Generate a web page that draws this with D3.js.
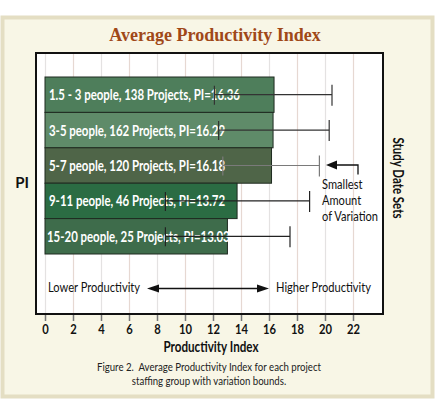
<!DOCTYPE html>
<html>
<head>
<meta charset="utf-8">
<script src="https://cdn.jsdelivr.net/npm/d3@7"></script>
<style>
  body { margin: 0; background: #fff; }
  svg { display: block; }
  .cond { font-family: "Lato", "Liberation Sans", sans-serif; }
</style>
</head>
<body>
<svg></svg>
<script>
var screen = {width: 435, height: 401}

// chart data
var groups = ["1.5 - 3 people", "3-5 people", "5-7 people", "9-11 people", "15-20 people"]
var projects = [138, 162, 120, 46, 25]
var piValues = [16.36, 16.29, 16.18, 13.72, 13.03]
var lowBounds = [12.1, 12.4, 12.7, 8.6, 8.6]
var highBounds = [20.5, 20.3, 19.6, 18.9, 17.5]
var xTicks = [0, 2, 4, 6, 8, 10, 12, 14, 16, 18, 20, 22]

var barColors = ["#4e7e5b", "#5f8b69", "#4f6548", "#2b6c43", "#3e6c4b"]
var whiskerColors = ["#333", "#333", "#7a7a7a", "#222", "#222"]

// squeeze text horizontally (the original uses a condensed face)
var squeeze = function(sel, factor)
{
    sel.each(function(){
        var w = this.getComputedTextLength()
        d3.select(this)
            .attr("textLength", w * factor)
            .attr("lengthAdjust", "spacingAndGlyphs")
    })
}
var fitTo = function(sel, width)
{
    sel.attr("textLength", width).attr("lengthAdjust", "spacingAndGlyphs")
}

var svg = d3.select("svg")
    .attr("width", screen.width)
    .attr("height", screen.height)

// beige frame
svg.append("rect")
    .attr("x", 2.5).attr("y", 17.5)
    .attr("width", 430).attr("height", 379)
    .attr("fill", "#f8f6e6")
    .attr("stroke", "#e4dec3")
    .attr("stroke-width", 4)

var box = {left: 36, right: 383, top: 53, bottom: 314}

var xScale = d3.scaleLinear()
    .domain([0, 22])
    .range([45, 353])

var yScale = d3.scaleBand()
    .domain(groups)
    .range([77, 254])
    .padding(0)

// plot area
svg.append("rect")
    .attr("x", box.left).attr("y", box.top)
    .attr("width", box.right - box.left)
    .attr("height", box.bottom - box.top)
    .attr("fill", "#fff")

// grid lines
svg.append("g")
    .selectAll("line")
    .data(xTicks)
    .enter()
    .append("line")
    .attr("x1", function(d){return xScale(d) + 0.5})
    .attr("x2", function(d){return xScale(d) + 0.5})
    .attr("y1", box.top)
    .attr("y2", box.bottom)
    .attr("stroke", function(d, i){return i % 2 ? "#e6d8d2" : "#e4e2e2"})
    .attr("stroke-width", 1.2)

// bars
var rows = svg.append("g")
    .selectAll("g")
    .data(groups)
    .enter()
    .append("g")

rows.append("rect")
    .attr("x", xScale(0))
    .attr("y", function(d){return yScale(d)})
    .attr("width", function(d, i){return xScale(piValues[i]) - xScale(0)})
    .attr("height", yScale.bandwidth())
    .attr("fill", function(d, i){return barColors[i]})
    .attr("stroke", "#1e2a20")
    .attr("stroke-width", 1)

var labels = rows.append("text")
    .attr("class", "cond")
    .attr("x", function(d, i){return i == 4 ? 47 : 49})
    .attr("y", function(d){return yScale(d) + yScale.bandwidth() / 2 + 5.5})
    .attr("fill", "#fff")
    .attr("font-size", 15.5)
    .attr("font-weight", "bold")
    .text(function(d, i){return d + ", " + projects[i] + " Projects, PI=" + piValues[i].toFixed(2)})
var firstW = labels.node().getComputedTextLength()
squeeze(labels, 191 / firstW)

// variation bounds
var midY = function(d){return yScale(d) + yScale.bandwidth() / 2}
rows.append("line")
    .attr("x1", function(d, i){return xScale(lowBounds[i])})
    .attr("x2", function(d, i){return xScale(highBounds[i])})
    .attr("y1", midY).attr("y2", midY)
    .attr("stroke", function(d, i){return whiskerColors[i]})
    .attr("stroke-width", 1.2)
rows.append("line")
    .attr("x1", function(d, i){return xScale(lowBounds[i])})
    .attr("x2", function(d, i){return xScale(lowBounds[i])})
    .attr("y1", function(d){return midY(d) - 9})
    .attr("y2", function(d){return midY(d) + 10})
    .attr("stroke", function(d, i){return whiskerColors[i]})
    .attr("stroke-width", 1.2)
rows.append("line")
    .attr("x1", function(d, i){return xScale(highBounds[i])})
    .attr("x2", function(d, i){return xScale(highBounds[i])})
    .attr("y1", function(d){return midY(d) - 10})
    .attr("y2", function(d){return midY(d) + 11})
    .attr("stroke", function(d, i){return whiskerColors[i]})
    .attr("stroke-width", 1.2)

// box border
svg.append("rect")
    .attr("x", box.left).attr("y", box.top)
    .attr("width", box.right - box.left)
    .attr("height", box.bottom - box.top)
    .attr("fill", "none")
    .attr("stroke", "#111")
    .attr("stroke-width", 2)

// x axis
var xAxis = d3.axisBottom(xScale)
    .tickValues(xTicks)
    .tickSize(6)
    .tickPadding(3)
var axisG = svg.append("g")
    .attr("transform", "translate(0," + (box.bottom + 1) + ")")
    .call(xAxis)
axisG.select(".domain").remove()
axisG.selectAll(".tick line").attr("stroke", "#777").attr("stroke-width", 1.5)
var tickText = axisG.selectAll(".tick text")
    .attr("class", "cond")
    .attr("font-size", 14)
    .attr("font-weight", "bold")
    .attr("fill", "#111")
squeeze(tickText, 0.8)

var xTitle = svg.append("text")
    .attr("class", "cond")
    .attr("x", 211).attr("y", 352)
    .attr("text-anchor", "middle")
    .attr("font-size", 16)
    .attr("font-weight", "bold")
    .attr("fill", "#111")
    .text("Productivity Index")
fitTo(xTitle, 95)

// title
svg.append("text")
    .attr("x", 215).attr("y", 41)
    .attr("text-anchor", "middle")
    .attr("font-family", "Liberation Serif, serif")
    .attr("font-size", 18)
    .attr("font-weight", "bold")
    .attr("fill", "#a04818")
    .text("Average Productivity Index")

// side labels
svg.append("text")
    .attr("class", "cond")
    .attr("x", 22).attr("y", 188)
    .attr("text-anchor", "middle")
    .attr("font-size", 15)
    .attr("font-weight", "bold")
    .attr("fill", "#111")
    .text("PI")

var sideTitle = svg.append("text")
    .attr("class", "cond")
    .attr("transform", "translate(393,178) rotate(90)")
    .attr("text-anchor", "middle")
    .attr("font-size", 15)
    .attr("font-weight", "bold")
    .attr("fill", "#111")
    .text("Study Date Sets")
fitTo(sideTitle, 81)

// annotation
svg.append("path")
    .attr("d", "M358,174.5 V165 H334")
    .attr("fill", "none")
    .attr("stroke", "#111")
    .attr("stroke-width", 1.3)
svg.append("path")
    .attr("d", "M326,165 L337,160.5 L337,169.5 Z")
    .attr("fill", "#111")
var noteLines = ["Smallest", "Amount", "of Variation"]
var notes = svg.append("g")
    .selectAll("text")
    .data(noteLines)
    .enter()
    .append("text")
    .attr("class", "cond")
    .attr("x", 322)
    .attr("y", function(d, i){return 189 + i * 16})
    .attr("font-size", 13.5)
    .attr("fill", "#111")
    .text(function(d){return d})
squeeze(notes, 56 / notes.filter(function(d, i){return i == 2}).node().getComputedTextLength())

// productivity direction
var lower = svg.append("text")
    .attr("class", "cond")
    .attr("x", 48).attr("y", 292)
    .attr("font-size", 14)
    .attr("fill", "#111")
    .text("Lower Productivity")
fitTo(lower, 92)
var higher = svg.append("text")
    .attr("class", "cond")
    .attr("x", 276).attr("y", 292)
    .attr("font-size", 14)
    .attr("fill", "#111")
    .text("Higher Productivity")
fitTo(higher, 95)
svg.append("line")
    .attr("x1", 155).attr("x2", 262)
    .attr("y1", 288.5).attr("y2", 288.5)
    .attr("stroke", "#111")
    .attr("stroke-width", 1.6)
svg.append("path")
    .attr("d", "M147,288.5 L159,284.5 L159,292.5 Z M269,288.5 L257,284.5 L257,292.5 Z")
    .attr("fill", "#111")

// caption
var caption = ["Figure 2.  Average Productivity Index for each project", "staffing group with variation bounds."]
var capText = svg.append("g")
    .selectAll("text")
    .data(caption)
    .enter()
    .append("text")
    .attr("class", "cond")
    .attr("x", 209)
    .attr("y", function(d, i){return 370.5 + i * 14})
    .attr("text-anchor", "middle")
    .attr("font-size", 11.5)
    .attr("fill", "#222")
    .attr("xml:space", "preserve")
    .text(function(d){return d})
squeeze(capText, 224 / capText.node().getComputedTextLength())
</script>
</body>
</html>
